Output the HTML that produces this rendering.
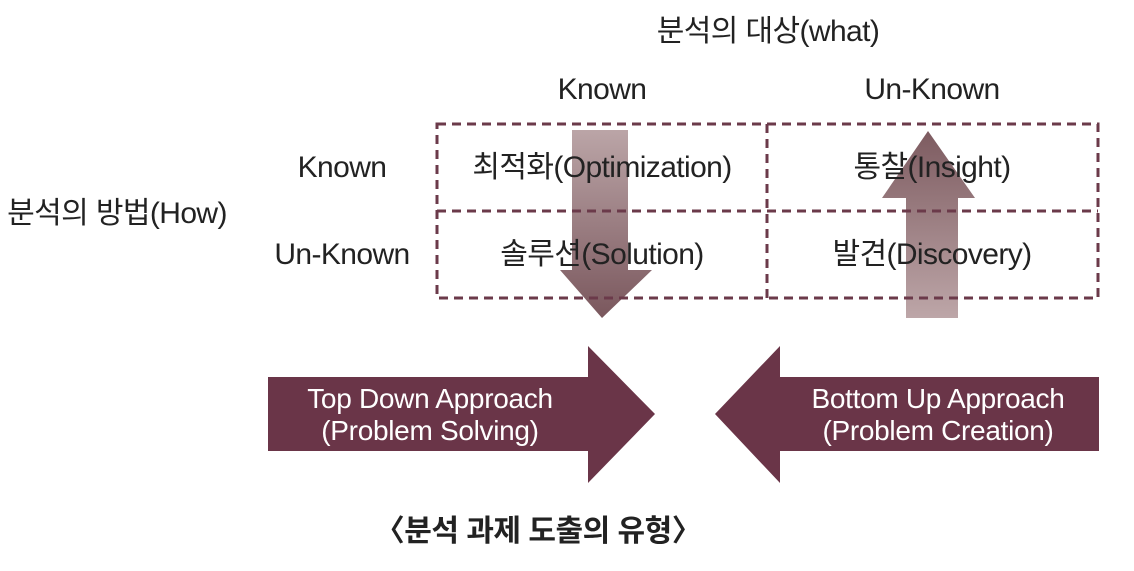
<!DOCTYPE html>
<html><head><meta charset="utf-8"><style>
body{margin:0;background:#fff;width:1134px;height:566px;overflow:hidden}
svg text{font-family:"Liberation Sans","Noto Sans CJK KR",sans-serif}
</style></head><body>
<svg width="1134" height="566" viewBox="0 0 1134 566" xmlns="http://www.w3.org/2000/svg">
<defs>
<linearGradient id="gd" x1="0" y1="0" x2="0" y2="1"><stop offset="0" stop-color="#bba5a7"/><stop offset="1" stop-color="#7a575d"/></linearGradient>
<linearGradient id="gu" x1="0" y1="0" x2="0" y2="1"><stop offset="0" stop-color="#7d5b60"/><stop offset="1" stop-color="#bda6a8"/></linearGradient>
</defs>
<g font-size="30" fill="#222" text-anchor="middle" letter-spacing="-0.6">
<text x="768" y="41">분석의 대상(what)</text>
<text x="602" y="99">Known</text>
<text x="932" y="99">Un-Known</text>
<text x="342" y="177">Known</text>
<text x="342" y="264">Un-Known</text>
<text x="117" y="223">분석의 방법(How)</text>
</g>
<polygon points="572,130 628,130 628,270 652,270 602,318 560,270 572,270" fill="url(#gd)"/>
<polygon points="928,131 975,198 958,198 958,318 906,318 906,198 882,198" fill="url(#gu)"/>
<g fill="none" stroke="#6b3a4a" stroke-width="3" stroke-dasharray="9,6">
<rect x="437" y="124" width="661" height="174"/>
<line x1="767" y1="124" x2="767" y2="298"/>
<line x1="437" y1="211" x2="1098" y2="211"/>
</g>
<g font-size="30" fill="#222" text-anchor="middle" letter-spacing="-0.6">
<text x="602" y="177">최적화(Optimization)</text>
<text x="932" y="177">통찰(Insight)</text>
<text x="602" y="264">솔루션(Solution)</text>
<text x="932" y="264">발견(Discovery)</text>
</g>
<polygon points="268,377 588,377 588,346 655,414 588,483 588,451 268,451" fill="#6a3548"/>
<polygon points="1099,377 780,377 780,346 715,414 780,483 780,451 1099,451" fill="#6a3548"/>
<g font-size="28" fill="#fff" text-anchor="middle" letter-spacing="-0.3">
<text x="430" y="408">Top Down Approach</text>
<text x="430" y="440">(Problem Solving)</text>
<text x="938" y="408">Bottom Up Approach</text>
<text x="938" y="440">(Problem Creation)</text>
</g>
<text x="538" y="541" font-size="30" font-weight="bold" fill="#222" text-anchor="middle" letter-spacing="-0.5">〈분석 과제 도출의 유형〉</text>
</svg>
</body></html>
